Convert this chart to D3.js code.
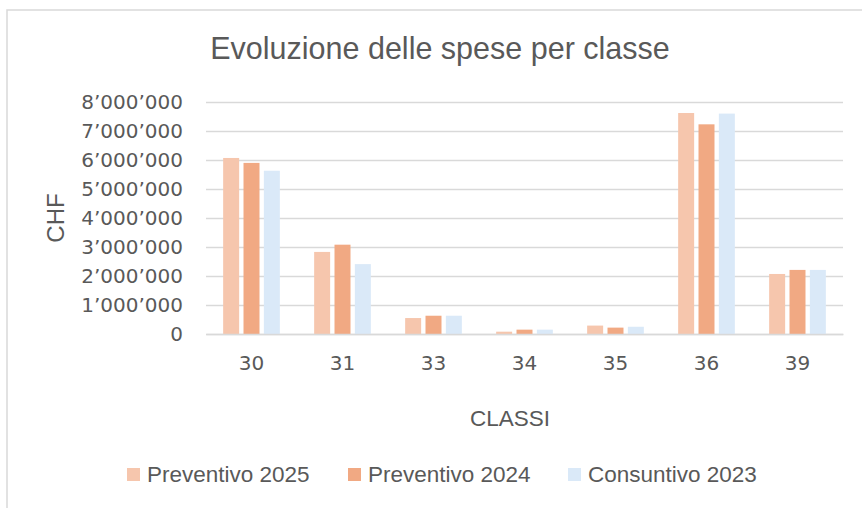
<!DOCTYPE html>
<html>
<head>
<meta charset="utf-8">
<script src="https://cdn.jsdelivr.net/npm/d3@7"></script>
<style>
  html, body { margin: 0; padding: 0; background: #fff; }
  svg { display: block; }
</style>
</head>
<body>
<svg id="chart" width="862" height="508"></svg>
<script>
// Spending per class (CHF)
const categories = ["30", "31", "33", "34", "35", "36", "39"];
const seriesNames = ["Preventivo 2025", "Preventivo 2024", "Consuntivo 2023"];
const preventivo2025 = [6070000, 2830000, 550000, 80000, 290000, 7620000, 2070000];
const preventivo2024 = [5900000, 3080000, 630000, 150000, 220000, 7230000, 2210000];
const consuntivo2023 = [5630000, 2410000, 630000, 150000, 250000, 7600000, 2210000];
const yTicks = [0, 1000000, 2000000, 3000000, 4000000, 5000000, 6000000, 7000000, 8000000];
const seriesColors = ["#F6C6AD", "#F1A983", "#DAE9F8"];

const seriesValues = [preventivo2025, preventivo2024, consuntivo2023];
const rows = categories.map((c, i) => ({
  cat: c,
  vals: seriesNames.map((s, j) => ({ key: s, value: seriesValues[j][i] }))
}));

const svg = d3.select("#chart");
const textColor = "#595959";
const gridColor = "#D9D9D9";
const tickFont = "DejaVu Sans, Verdana, sans-serif";
const mainFont = "Liberation Sans, Arial, sans-serif";

// chart frame (left and top edges)
svg.append("path")
  .attr("d", "M7,508 V10 H862")
  .attr("fill", "none")
  .attr("stroke", gridColor)
  .attr("stroke-width", 1.5);

const plot = { left: 206, right: 843, top: 102, bottom: 334 };

const x0 = d3.scaleBand()
  .domain(categories)
  .range([plot.left, plot.right])
  .paddingInner(0.377)
  .paddingOuter(0.1885);

const x1 = d3.scaleBand()
  .domain(seriesNames)
  .range([0, x0.bandwidth()])
  .paddingInner(0.214);

const y = d3.scaleLinear()
  .domain([0, 8000000])
  .range([plot.bottom, plot.top]);

const loc = d3.formatLocale({ decimal: ".", thousands: "\u2019", grouping: [3], currency: ["", ""] });
const fmt = loc.format(",");

// gridlines + y labels
const yAxis = d3.axisLeft(y)
  .tickValues(yTicks)
  .tickFormat(fmt)
  .tickSize(-(plot.right - plot.left))
  .tickPadding(23);

const gy = svg.append("g")
  .attr("transform", `translate(${plot.left},0)`)
  .call(yAxis);
gy.select(".domain").remove();
gy.selectAll(".tick line")
  .attr("stroke", gridColor)
  .attr("stroke-width", 1.5);
gy.selectAll(".tick text")
  .attr("fill", textColor)
  .style("font-family", tickFont)
  .style("font-size", "20px");

// bars
const groups = svg.append("g")
  .selectAll("g")
  .data(rows)
  .join("g")
  .attr("transform", d => `translate(${x0(d.cat)},0)`);

groups.selectAll("rect")
  .data(d => d.vals)
  .join("rect")
  .attr("x", d => x1(d.key))
  .attr("y", d => y(d.value))
  .attr("width", x1.bandwidth())
  .attr("height", d => y(0) - y(d.value))
  .attr("fill", (d, i) => seriesColors[i]);

// x axis
const xAxis = d3.axisBottom(x0).tickSize(0).tickPadding(22);
const gx = svg.append("g")
  .attr("transform", `translate(0,${plot.bottom})`)
  .call(xAxis);
gx.select(".domain")
  .attr("stroke", gridColor)
  .attr("stroke-width", 1.5);
gx.selectAll(".tick text")
  .attr("fill", textColor)
  .style("font-family", tickFont)
  .style("font-size", "20px");

// title
svg.append("text")
  .attr("x", 440)
  .attr("y", 59)
  .attr("text-anchor", "middle")
  .attr("fill", textColor)
  .style("font-family", mainFont)
  .style("font-size", "30.5px")
  .text("Evoluzione delle spese per classe");

// axis titles
svg.append("text")
  .attr("transform", `translate(64,${(plot.top + plot.bottom) / 2}) rotate(-90)`)
  .attr("text-anchor", "middle")
  .attr("fill", textColor)
  .style("font-family", mainFont)
  .style("font-size", "24px")
  .text("CHF");

svg.append("text")
  .attr("x", 510)
  .attr("y", 426)
  .attr("text-anchor", "middle")
  .attr("fill", textColor)
  .style("font-family", mainFont)
  .style("font-size", "22.5px")
  .text("CLASSI");

// legend
const legend = svg.append("g");
const legendStarts = [127, 348, 568];
seriesNames.forEach((name, i) => {
  const g = legend.append("g").attr("transform", `translate(${legendStarts[i]},0)`);
  g.append("rect")
    .attr("x", 0).attr("y", 468)
    .attr("width", 13).attr("height", 13)
    .attr("fill", seriesColors[i]);
  g.append("text")
    .attr("x", 20).attr("y", 482)
    .attr("fill", textColor)
    .style("font-family", mainFont)
    .style("font-size", "22.5px")
    .text(name);
});
</script>
</body>
</html>
